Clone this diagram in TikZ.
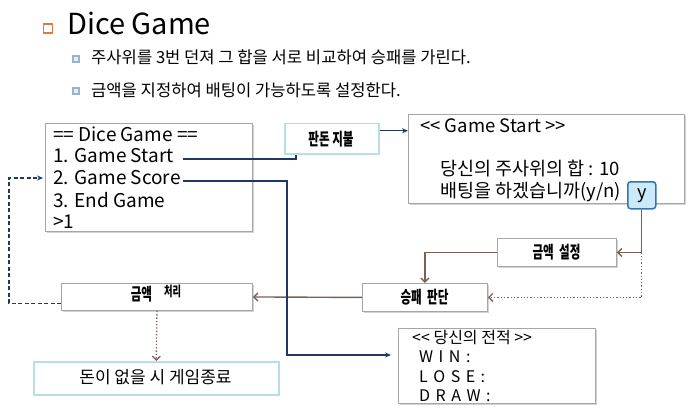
\documentclass[tikz,border=0pt]{standalone}
\usepackage{fontspec}
\setmainfont{Noto Sans CJK KR}
\usetikzlibrary{arrows.meta,shadows}
\definecolor{navy}{HTML}{1F3864}
\definecolor{brn}{HTML}{7A6158}
\definecolor{gborder}{HTML}{A6A6A6}
\definecolor{lblue}{HTML}{B7DDE8}
\definecolor{ybord}{HTML}{2E75B6}
\definecolor{yfill}{HTML}{CCE9F7}
\definecolor{orng}{HTML}{E07B39}
\definecolor{bul}{HTML}{9BB3D1}
\newcommand\lbl[1]{\scalebox{0.68}[1]{\fontsize{17}{17}\selectfont\bfseries #1}}
\newcommand\gp{\hspace{5.5pt}}
\begin{document}
\begin{tikzpicture}[x=1pt,y=-1pt,
  gbox/.style={draw=gborder,line width=0.9pt,fill=white,anchor=north west,inner sep=0pt,
    drop shadow={shadow xshift=1.5pt,shadow yshift=-1.5pt,opacity=0.35}},
  bbox/.style={draw=lblue,line width=1.5pt,fill=white,anchor=north west,inner sep=0pt},
  txt/.style={anchor=west,inner sep=0pt,font=\fontsize{19}{19}\selectfont},
  gtxt/.style={anchor=west,inner sep=0pt,font=\fontsize{18.5}{18.5}\selectfont},
  stxt/.style={anchor=west,inner sep=0pt,font=\fontsize{16}{16}\selectfont},
  navyline/.style={draw=navy,line width=1.5pt},
  brnline/.style={draw=brn,line width=1.4pt},
  brndot/.style={draw=brn,line width=1.3pt,dotted},
  nv/.style={-{Stealth[length=6pt,width=5pt]}},
  bv/.style={-{Straight Barb[length=4pt,width=8pt]}}
]
\useasboundingbox (0,0) rectangle (689,412);
% title
\node[draw=orng,line width=1.8pt,minimum size=9pt,inner sep=0pt] (tb) at (48,28.5) {};
\node[anchor=base west,inner sep=0pt,font=\fontsize{29}{29}\selectfont] (title) at (67,35) {Dice Game};
\node[draw=bul,fill=bul!25,line width=1.2pt,minimum size=6pt,inner sep=0pt] (b1) at (76,59) {};
\node[anchor=west,inner sep=0pt,font=\fontsize{16.6}{16.6}\selectfont] (t1) at (91,57) {주사위를 3번 던져 그 합을 서로 비교하여 승패를 가린다.};
\node[draw=bul,fill=bul!25,line width=1.2pt,minimum size=6pt,inner sep=0pt] (b2) at (76,91) {};
\node[anchor=west,inner sep=0pt,font=\fontsize{16.6}{16.6}\selectfont] (t2) at (91,90) {금액을 지정하여 배팅이 가능하도록 설정한다.};
% menu
\node[gbox,minimum width=207pt,minimum height=108pt] (menu) at (45,123) {};
\node[txt] (m0) at (53,134) {== Dice Game ==};
\node[txt] (m1) at (53,156) {1. Game Start};
\node[txt] (m2) at (53,178) {2. Game Score};
\node[txt] (m3) at (53,200) {3. End Game};
\node[txt] (m4) at (53,222) {>1};
% pay
\node[bbox,minimum width=94pt,minimum height=30pt] (pay) at (284,123) {};
\node (payt) at (331,139) {\lbl{판돈 지불}};
% game start
\node[gbox,minimum width=276pt,minimum height=89pt] (gs) at (408,114) {};
\node[gtxt] (g0) at (420,126) {<{}< Game Start >{}>};
\node[gtxt] (g1) at (440,169) {당신의 주사위의 합 : 10};
\node[gtxt] (g2) at (440,192) {배팅을 하겠습니까(y/n)};
\node[draw=ybord,line width=1.5pt,fill=yfill,rounded corners=3pt,anchor=north west,inner sep=0pt,
  minimum width=28pt,minimum height=27pt,font=\fontsize{18}{18}\selectfont] (ybox) at (627,181) {y};
% set amount
\node[gbox,minimum width=119pt,minimum height=28pt] (set) at (497,238) {};
\node (sett) at (556.5,252) {\lbl{금액\ \ 설정}};
% judge
\node[gbox,minimum width=125pt,minimum height=28pt] (judge) at (362,283) {};
\node (judget) at (424.5,297) {\lbl{승패\ \ 판단}};
% money process
\node[gbox,minimum width=191pt,minimum height=27pt] (money) at (61,283) {};
\node (moneyt) at (156,294) {\lbl{금액}\hspace{12pt}\raisebox{4pt}{\scalebox{0.8}{\lbl{처리}}}};
% end
\node[bbox,minimum width=245pt,minimum height=33pt] (endb) at (33,361) {};
\node[font=\fontsize{17}{17}\selectfont,inner sep=0pt] (endt) at (155.5,377.5) {돈이 없을 시 게임종료};
% score
\node[gbox,minimum width=197pt,minimum height=75pt] (score) at (398,328) {};
\node[stxt] (s0) at (412,338) {<{}< 당신의 전적 >{}>};
\node[stxt] (s1t) at (419,357) {W\gp I\gp N\gp :};
\node[stxt] (s2t) at (419,377) {L\gp O\gp S\gp E\gp :};
\node[stxt] (s3t) at (419,396) {D\gp R\gp A\gp W\gp :};
% coordinates
\coordinate (s1) at (183,159);
\coordinate (s2) at (183,181);
\coordinate (c2) at (287,355);
\coordinate (loopc) at (9,178);
% connectors
\draw[brnline,bv] (ybox.south) |- (set.east);
\draw[brndot,bv] (ybox.south) |- (judge.east);
\draw[brnline,bv] (set.west) -| (judge.north);
\draw[brnline,bv] (judge.west) -- (money.east);
\draw[brndot,bv] (money.south) -- (endb.north);
\draw[navyline] (s1) -| ([xshift=12pt]pay.south west);
\draw[navyline,nv] ([yshift=8pt]pay.east) coordinate (pa) -- (pa -| gs.west);
\draw[navyline,nv,shorten >=7pt] (s2) -| (c2) -- (c2 -| score.west);
\draw[navyline,dash pattern=on 4pt off 2.5pt,nv,shorten >=2pt] ([yshift=-6.5pt]money.west) -| (loopc) -- (loopc -| menu.west);
\end{tikzpicture}
\end{document}
